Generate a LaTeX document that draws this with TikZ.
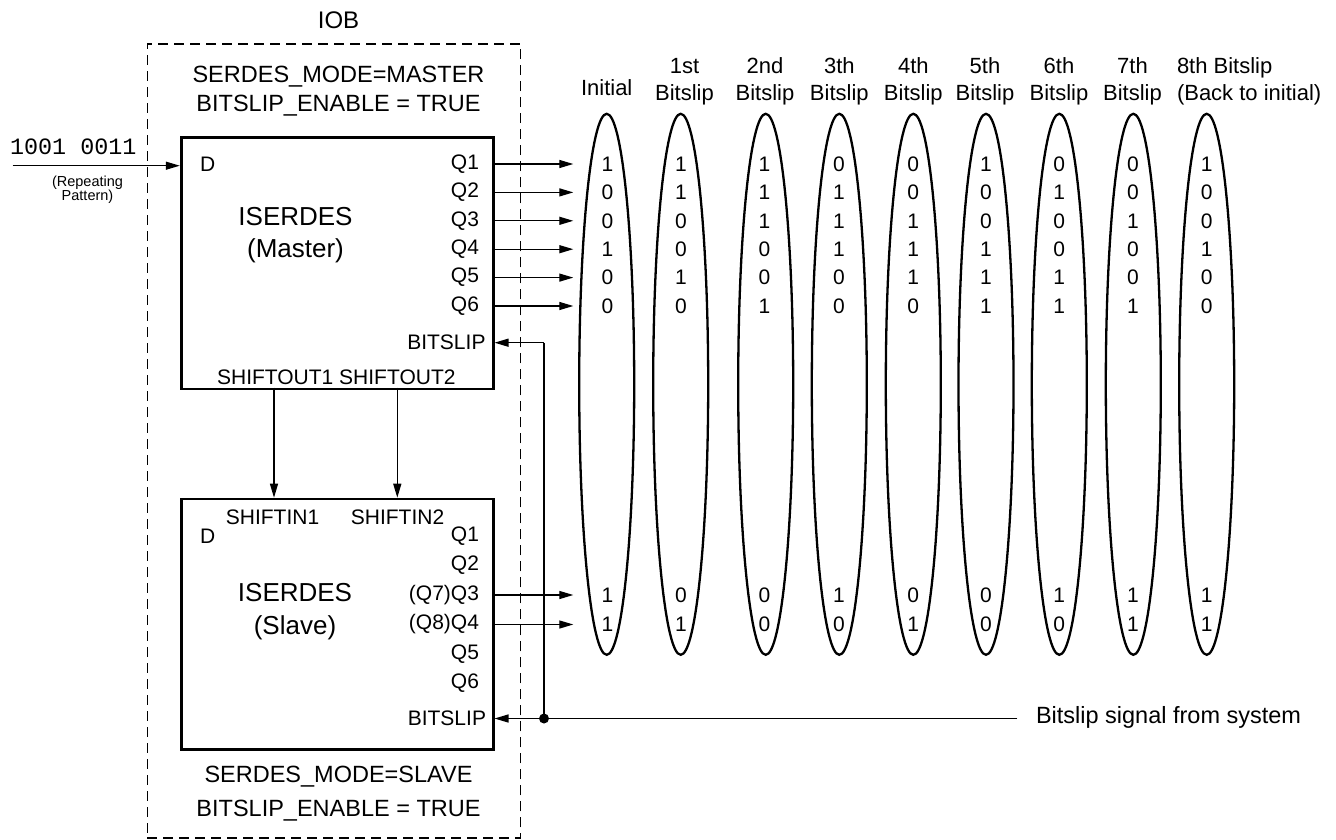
\documentclass[tikz,border=0pt]{standalone}
\usepackage{fontspec}
\setmainfont{Liberation Sans}
\newfontfamily\monofont{Liberation Mono}
\usetikzlibrary{shapes.geometric,arrows.meta}
\begin{document}
\begin{tikzpicture}[x=1pt,y=-1pt,
  lbl/.style={inner sep=0pt,outer sep=0pt},
  fmode/.style={lbl,font=\fontsize{23.5}{28}\selectfont},
  fbig/.style={lbl,font=\fontsize{26}{31.6}\selectfont,align=center},
  fport/.style={lbl,font=\fontsize{21}{25}\selectfont},
  fhead/.style={lbl,font=\fontsize{22}{26.6}\selectfont,align=center},
  fbit/.style={lbl,font=\fontsize{21}{25}\selectfont},
  fsmall/.style={lbl,font=\fontsize{14.5}{14.3}\selectfont,align=center},
  blockbox/.style={draw,line width=2.7pt,inner sep=0pt},
  iobbox/.style={draw,line width=1.3pt,dash pattern=on 10pt off 6pt},
  oval/.style={draw,ellipse,line width=2.3pt,inner sep=0pt,minimum width=55pt,minimum height=541pt},
  wire/.style={line width=1.3pt},
  arr/.style={wire,-{Triangle[length=14pt,width=8pt]}},
  dot/.style={circle,fill,inner sep=0pt,minimum size=10pt}
]
\useasboundingbox (0,0) rectangle (1336,840);

% IOB dashed region
\node[iobbox,inner sep=0pt,minimum width=373.3pt,minimum height=794pt,anchor=north west] (iob) at (146.7,43.3) {};
\node[fmode,font=\fontsize{24}{28}\selectfont,anchor=base] (iobl) at (338.5,28.3) {IOB};
\node[fmode,anchor=base] (mm1) at (338.5,82.3) {SERDES\_MODE=MASTER};
\node[fmode,anchor=base] (mm2) at (338.5,111.7) {BITSLIP\_ENABLE = TRUE};
\node[fmode,anchor=base] (sm1) at (338.5,782.7) {SERDES\_MODE=SLAVE};
\node[fmode,anchor=base] (sm2) at (338.5,816) {BITSLIP\_ENABLE = TRUE};

% blocks
\node[blockbox,minimum width=312pt,minimum height=251.7pt,anchor=north west] (mst) at (179.8,136) {};
\node[blockbox,minimum width=312pt,minimum height=250.6pt,anchor=north west] (slv) at (179.8,497.7) {};

\node[fbig,anchor=base] (mstn) at (295.5,225.7) {ISERDES};
\node[fbig,anchor=base] (mstm) at (295.5,257.3) {(Master)};
\node[fbig,anchor=base] (slvn) at (295,601.7) {ISERDES};
\node[fbig,anchor=base] (slvm) at (295,634) {(Slave)};

% master ports
\node[fport,anchor=base west] (md) at (200,171.3) {D};
\foreach \i/\y in {1/164,2/192.4,3/220.8,4/249.2,5/277.6,6/306}{
  \node[fport,anchor=east] (mq\i) at (479,\y) {Q\i};
}
\node[fport,anchor=east] (mbs) at (485.5,342.7) {BITSLIP};
\node[fport,anchor=base] (mso) at (336.3,384) {SHIFTOUT1 SHIFTOUT2};

% slave ports
\node[fport,anchor=base west] (sd) at (200,543.5) {D};
\node[fport,anchor=base] (si1) at (272.5,524.8) {SHIFTIN1};
\node[fport,anchor=base] (si2) at (397.5,524.8) {SHIFTIN2};
\node[fport,anchor=east] (sq1) at (479,536) {Q1};
\node[fport,anchor=east] (sq2) at (479,565.5) {Q2};
\node[fport,anchor=east] (sq3) at (479,595) {(Q7)Q3};
\node[fport,anchor=east] (sq4) at (479,624.5) {(Q8)Q4};
\node[fport,anchor=east] (sq5) at (479,654) {Q5};
\node[fport,anchor=east] (sq6) at (479,683.5) {Q6};
\node[fport,anchor=east] (sbs) at (486,718.5) {BITSLIP};

% input
\node[lbl,font=\monofont\fontsize{23.4}{28}\selectfont,anchor=base east] (pat) at (136.5,154) {1001 0011};
\node[fsmall] (rep) at (87.5,190) {(Repeating\\Pattern)};
\coordinate (inst) at (12.5,165.7);
\draw[arr] (inst) -- (mst.west |- inst);

% shift arrows
\coordinate (so1) at (274,387.7);
\coordinate (so2) at (397.3,387.7);
\draw[arr] (so1) -- (so1 |- slv.north);
\draw[arr] (so2) -- (so2 |- slv.north);

% ellipses, headers and bits
\def\cols{606.7/Initial,680.7/1st\\Bitslip,765.7/2nd\\Bitslip,839.3/3th\\Bitslip,913.3/4th\\Bitslip,986/5th\\Bitslip,1059.3/6th\\Bitslip,1133.3/7th\\Bitslip}
\foreach \x [count=\k] in {606.7,680.7,765.7,839.3,913.3,986,1059.3,1133.3,1206.7}{
  \node[oval] (e\k) at (\x,384.3) {};
}
\node[fhead,anchor=base] (h1) at (606.7,96) {Initial};
\foreach \x/\n [count=\k from 2] in {684.5/1st,765/2nd,839.3/3th,913.3/4th,985/5th,1059/6th,1132.5/7th}{
  \node[fhead,anchor=base] (h\k t) at (\x,74) {\n};
  \node[fhead,anchor=base] (h\k b) at (\x,100.7) {Bitslip};
}
\node[fhead,anchor=base west,align=left] (h9t) at (1177,74) {8th Bitslip};
\node[fhead,anchor=base west] (h9b) at (1177,100.7) {(Back to initial)};

% master bits, column by column
\foreach \x/\bits [count=\k] in {607.5/{1,0,0,1,0,0},681/{1,1,0,0,1,0},764.5/{1,1,1,0,0,1},839/{0,1,1,1,0,0},913.3/{0,0,1,1,1,0},986/{1,0,0,1,1,1},1059.3/{0,1,0,0,1,1},1133/{0,0,1,0,0,1},1206.7/{1,0,0,1,0,0}}{
  \foreach \b [count=\r] in \bits {
    \node[fbit] (b\k r\r) at (\x,{164+28.4*(\r-1)}) {\b};
  }
}
\foreach \x/\p/\q [count=\k] in {607.5/1/1,681/0/1,764.5/0/0,839/1/0,913.3/0/1,986/0/0,1059.3/1/0,1133/1/1,1206.7/1/1}{
  \node[fbit] (c\k r3) at (\x,595) {\p};
  \node[fbit] (c\k r4) at (\x,624.5) {\q};
}

% output arrows
\foreach \i in {1,...,6}{
  \coordinate (mt\i) at (573.3,0 |- mq\i);
  \draw[arr] (mst.east |- mq\i) -- (mt\i);
}
\coordinate (st3) at (573.3,595);
\coordinate (st4) at (573.3,624.5);
\draw[arr] (slv.east |- st3) -- (st3);
\draw[arr] (slv.east |- st4) -- (st4);

% bitslip signal
\node[fmode,anchor=base west] (sig) at (1036,723.3) {Bitslip signal from system};
\coordinate (sigend) at (1017.3,718.5);
\node[dot] (jn) at (544,718.5) {};
\coordinate (up) at (544,342.7);
\draw[wire] (sigend) -- (jn);
\draw[arr] (jn) -- (slv.east |- jn);
\draw[wire] (jn.center) -- (up);
\draw[arr] (up) -- (mst.east |- up);
\end{tikzpicture}
\end{document}
